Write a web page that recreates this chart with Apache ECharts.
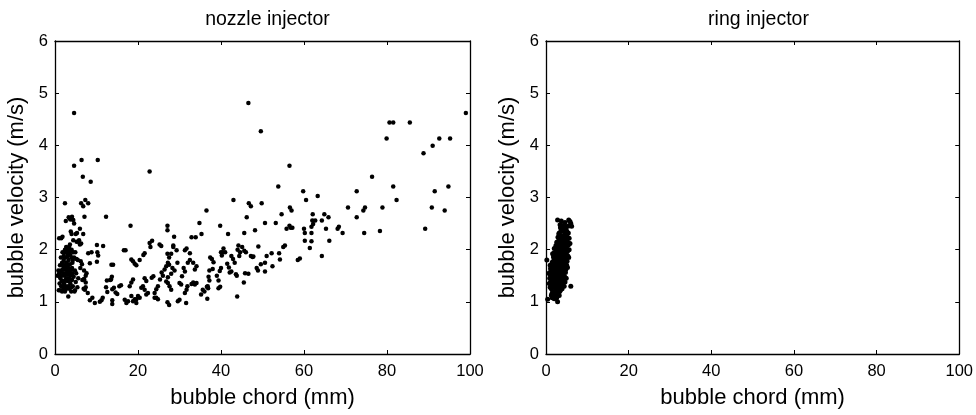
<!DOCTYPE html>
<html>
<head>
<meta charset="utf-8">
<script src="https://cdn.jsdelivr.net/npm/echarts@6/dist/echarts.min.js"></script>
<style>html,body{margin:0;padding:0;background:#fff}#c{width:976px;height:415px}</style>
</head>
<body>
<div id="c"></div>
<script>
const panelTitles = ['nozzle injector', 'ring injector'];
const xTitle = 'bubble chord (mm)';
const yTitle = 'bubble velocity (m/s)';
const xRange = [0, 100, 20];
const yRange = [0, 6, 1];

const nozzlePoints = [
[4.6,4.62],[46.6,4.81],[49.6,4.27],[99.0,4.62],[80.6,4.44],[81.5,4.44],[85.5,4.44],[79.9,4.13],[92.6,4.13],[95.2,4.13],
[91.0,3.99],[88.8,3.85],[4.6,3.61],[6.4,3.72],[10.3,3.72],[6.7,3.40],[8.6,3.30],[22.8,3.50],[56.5,3.61],[76.4,3.40],
[53.8,3.21],[81.5,3.21],[94.8,3.21],[72.7,3.12],[91.5,3.12],[59.8,3.12],[63.3,3.03],[60.5,2.95],[82.3,2.95],[43.0,2.95],
[2.4,2.89],[6.3,2.89],[7.3,2.95],[8.0,2.89],[6.8,2.83],[46.7,2.89],[47.2,2.83],[49.8,2.89],[56.6,2.81],[57.0,2.75],
[70.6,2.81],[74.7,2.81],[78.9,2.81],[90.8,2.81],[93.9,2.75],[74.3,2.75],[36.5,2.75],[7.1,2.63],[12.3,2.63],
[3.3,2.62],[3.7,2.58],[4.1,2.63],[4.4,2.57],[54.6,2.68],[62.1,2.68],[64.9,2.68],[65.9,2.62],[72.7,2.62],[46.2,2.62],
[34.8,2.51],[50.6,2.51],[53.2,2.51],[27.1,2.46],[39.8,2.46],[18.2,2.46],[56.5,2.46],[56.8,2.42],[57.2,2.42],
[60.0,2.40],[65.3,2.40],[68.1,2.40],[68.4,2.44],[89.2,2.40],[55.8,2.40],[78.3,2.36],[74.5,2.32],[69.3,2.32],[60.2,2.32],
[27.1,2.37],[48.2,2.37],[35.3,2.30],[41.7,2.30],[61.8,2.32],[32.9,2.24],[33.9,2.24],[28.7,2.25],[45.6,2.32],
[62.7,2.56],[62.0,2.56],[64.3,2.56],[61.8,2.44],[62.2,2.49],[66.1,2.17],[60.2,2.17],[61.8,2.16],[61.4,2.03],
[64.3,1.88],[59.0,1.83],[58.5,1.80],[55.0,2.05],[55.4,2.08],[54.0,1.93],[54.2,1.81],[52.2,1.93],[51.0,1.88],
[52.4,1.68],[50.6,1.75],[50.6,1.58],[49.6,1.72],[48.6,1.65],[48.9,1.60],[49.0,2.06],[47.8,1.87],[47.2,1.88],[47.6,1.86],
[46.0,1.95],[45.6,1.98],[45.1,2.05],[45.8,1.55],[45.5,1.37],[46.6,1.54],[44.6,1.95],[44.4,1.88],[44.0,2.00],[44.2,2.08],
[43.3,1.75],[42.9,1.82],[42.5,1.88],[43.8,1.50],[43.6,1.53],[42.5,1.58],[42.1,1.56],[43.9,1.10],[41.0,1.95],[40.6,2.02],
[40.2,1.89],[41.5,1.73],[41.9,1.66],[40.0,1.65],[39.7,1.59],[40.0,1.95],[40.4,1.95],[38.2,1.76],[37.8,1.82],[37.4,1.85],
[38.0,1.63],[37.2,1.60],[37.0,1.48],[37.2,1.41],[36.8,1.30],[39.0,1.50],[39.4,1.41],[39.8,1.29],[39.4,1.26],[36.6,1.29],
[36.0,1.20],[36.9,1.26],[35.2,1.14],[35.6,1.23],[36.7,1.06],[34.1,1.36],[33.7,1.33],[33.3,1.37],[32.9,1.34],
[34.1,1.68],[33.7,1.62],[33.3,1.75],[32.5,1.80],[32.0,1.75],[32.5,1.93],[31.3,1.99],[31.7,2.02],[31.0,1.65],[31.3,1.58],
[30.6,1.49],[31.7,1.23],[31.3,1.17],[31.9,1.30],[31.6,0.98],[30.4,1.33],[30.0,1.36],[30.0,1.04],[29.6,1.01],[29.5,1.75],
[28.3,1.65],[27.5,1.71],[28.8,1.60],[28.0,1.54],[27.2,1.47],[28.5,2.05],[28.5,2.08],[29.3,1.99],[28.0,1.92],[27.1,1.92],
[27.5,1.85],[27.5,0.94],[27.1,0.99],[28.0,1.23],[27.6,1.30],[27.2,1.36],[26.8,1.39],[26.8,1.68],[26.4,1.62],[27.2,1.75],
[26.0,1.50],[25.7,1.56],[25.3,1.43],[25.6,2.07],[25.2,2.10],[24.8,1.30],[24.4,1.24],[24.0,1.17],[24.8,1.05],[24.4,1.08],
[24.0,1.08],[23.7,1.49],[23.3,1.46],[23.0,2.05],[23.4,2.17],[22.8,2.13],[22.4,1.17],[22.0,1.14],[21.6,1.23],[21.2,1.30],
[20.8,1.27],[21.6,1.45],[22.0,1.40],[20.4,1.08],[20.0,1.11],[19.6,1.05],[21.3,1.90],[21.6,1.93],[20.4,1.80],[19.6,1.70],
[19.2,1.73],[18.8,1.43],[18.4,1.37],[18.0,1.30],[19.2,1.05],[19.6,0.98],[18.8,1.01],[18.4,1.11],[17.6,1.01],[17.2,0.98],
[16.8,1.04],[18.8,1.78],[18.4,1.81],[17.0,1.99],[16.6,1.99],[15.9,1.32],[15.5,1.30],[15.0,1.15],[14.6,1.18],[14.2,1.27],
[13.8,1.24],[14.0,1.71],[13.6,1.71],[13.5,1.43],[13.3,1.42],[13.7,1.48],[13.8,1.03],[13.8,0.96],[12.5,1.41],[12.3,1.28],
[12.6,1.19],[11.5,1.08],[11.2,1.03],[10.8,1.00],[11.6,2.07],[10.1,2.09],[10.2,1.95],[10.4,1.89],[10.1,1.77],[9.6,0.98],
[9.0,1.08],[8.4,1.03],[8.8,1.95],[8.4,1.74],[7.6,1.55],[7.4,1.50],[7.0,1.44],[7.4,1.37],[7.4,1.28],[7.2,1.23],[7.9,1.17],
[7.0,1.43],[6.5,1.72],[6.8,2.30],[6.3,2.12],[7.0,1.60],[6.6,1.42],[6.9,1.25],[8.0,1.93],[6.0,2.40],[5.6,2.15],[5.8,2.18],
[6.0,2.10],[6.2,1.78],[6.1,1.65],[5.5,1.80],[5.2,2.15],[5.0,2.30],[4.4,2.18],[4.0,2.30],[3.5,2.60],[2.6,2.55],[1.0,2.22],
[1.5,2.22],[1.8,2.25],[0.6,1.50],[0.8,1.60],[0.9,1.22],[1.0,1.55],[1.1,1.35],[1.2,1.70],[1.2,1.22],[1.3,1.45],[1.4,1.60],
[1.4,1.85],[1.5,1.30],[1.6,1.50],[1.7,1.75],[1.7,1.20],[1.8,1.40],[1.8,1.95],[1.9,1.62],[2.0,1.25],[2.0,1.55],[2.1,1.80],
[2.2,1.35],[2.2,1.70],[2.3,1.95],[2.3,1.50],[2.4,1.20],[2.4,2.00],[2.5,1.65],[2.5,1.42],[2.6,1.85],[2.6,1.30],[2.7,1.55],
[2.7,2.05],[2.8,1.75],[2.8,1.25],[2.9,1.60],[2.9,1.95],[3.0,1.40],[3.0,1.70],[3.1,1.88],[3.1,1.52],[3.2,1.30],[3.2,2.00],
[3.3,1.65],[3.3,1.80],[3.4,1.45],[3.4,1.95],[3.5,1.58],[3.5,1.25],[3.6,1.72],[3.6,2.10],[3.7,1.35],[3.7,1.90],[3.8,1.50],
[3.8,2.35],[3.9,1.62],[3.9,1.28],[4.0,1.85],[4.0,2.00],[4.1,1.42],[4.2,1.55],[4.2,1.75],[4.3,1.30],[4.4,1.95],[4.5,1.48],
[4.6,2.50],[4.7,1.20],[4.8,1.60],[5.0,1.38],[5.2,1.82],[5.4,1.28],[5.6,1.45],[3.2,1.10],[4.8,1.22],[2.1,1.88],[2.5,1.95],
[2.9,2.02],[3.0,1.92],[3.4,2.05],[1.6,1.40],[1.9,1.30],[2.3,1.62],[2.7,1.75],[3.6,1.55],[4.1,1.65],[1.3,1.58],[2.0,1.68],
[3.3,1.40],[4.3,1.80],[3.8,1.98],[2.2,1.22],[1.2,1.48],[2.8,1.45],[3.9,1.20],[4.6,1.85],[5.1,1.55],[5.3,2.32],[4.9,1.95]
];

const ringPoints = [
[0.2,1.80],[0.4,1.05],[2.8,1.00],[6.0,1.30],[2.8,2.57],[5.5,2.57],[5.8,2.54],[6.0,2.50],[6.2,2.45],[4.2,2.45],[4.4,2.48],
[1.5,1.08],[1.8,1.12],[2.0,1.06],[2.3,1.15],[2.6,1.10],[3.0,1.18],[3.2,1.12],[1.6,1.20],[2.1,1.20],[2.9,1.25],[3.5,1.22],
[1.0,1.28],[1.3,1.25],[1.8,1.30],[2.2,1.28],[2.6,1.32],[3.1,1.30],[3.6,1.28],[4.0,1.33],[4.4,1.30],[1.1,1.38],[1.5,1.35],
[2.0,1.38],[2.4,1.40],[2.8,1.37],[3.3,1.40],[3.8,1.38],[4.2,1.42],[0.9,1.45],[1.3,1.44],[1.7,1.46],[2.1,1.48],[2.5,1.45],
[3.0,1.47],[3.4,1.50],[3.9,1.46],[4.5,1.48],[1.0,1.52],[1.4,1.55],[1.9,1.53],[2.3,1.56],[2.7,1.52],[3.2,1.55],[3.6,1.58],
[4.1,1.54],[4.7,1.56],[1.2,1.60],[1.6,1.62],[2.0,1.64],[2.5,1.61],[2.9,1.63],[3.4,1.66],[3.8,1.62],[4.3,1.65],[4.8,1.62],
[1.3,1.68],[1.8,1.70],[2.2,1.72],[2.6,1.69],[3.1,1.71],[3.5,1.74],[4.0,1.70],[4.5,1.73],[5.0,1.70],[1.5,1.76],[1.9,1.79],
[2.4,1.77],[2.8,1.80],[3.3,1.78],[3.7,1.82],[4.2,1.79],[4.7,1.81],[5.1,1.78],[1.8,1.86],[2.2,1.88],[2.6,1.85],[3.0,1.88],
[3.5,1.90],[3.9,1.86],[4.4,1.89],[4.9,1.92],[5.3,1.88],[2.0,1.94],[2.5,1.96],[2.9,1.98],[3.3,1.95],[3.8,1.99],[4.2,1.96],
[4.7,2.00],[5.2,1.97],[2.3,2.03],[2.7,2.05],[3.2,2.08],[3.6,2.04],[4.0,2.07],[4.5,2.10],[5.0,2.06],[5.4,2.09],[2.6,2.14],
[3.0,2.16],[3.4,2.12],[3.9,2.18],[4.3,2.15],[4.8,2.19],[5.3,2.14],[2.9,2.24],[3.3,2.22],[3.7,2.26],[4.1,2.23],[4.6,2.28],
[5.1,2.25],[5.6,2.22],[3.2,2.32],[3.6,2.35],[4.0,2.38],[4.5,2.33],[5.0,2.36],[3.5,2.42],[3.9,2.40],[2.9,1.42],[2.4,1.25],
[1.9,1.18],[3.6,1.35],[4.6,1.38],[1.2,1.33],[2.7,1.58],[3.7,1.44],[4.4,1.60],[1.7,1.56],[2.3,1.66],[3.3,1.60],[4.1,1.76],
[2.1,1.82],[3.6,1.84],[4.6,1.95],[2.8,1.92],[3.4,2.00],[4.3,2.02],[2.6,1.08],[1.4,1.15],[2.0,1.32],[3.9,1.25],[4.9,1.45],
[1.1,1.64],[5.2,1.66],[5.5,1.85],[5.6,2.00],[5.8,2.12],[1.6,1.92],[2.0,2.02],[2.4,2.08],[3.1,2.30],[3.4,2.48],[4.8,2.42],
[5.4,2.32],[0.8,1.35],[0.7,1.55],[1.0,1.70],[2.5,1.35],[3.5,1.33],[4.1,1.48],[2.2,1.43],[1.5,1.48],[3.2,1.82],[2.7,1.76],
[4.0,1.92],[3.7,2.12],[4.4,2.20],[2.1,1.58],[2.6,1.50],[3.0,1.58],[3.6,1.68],[4.6,1.68],[3.8,1.52],[2.4,1.84],[1.7,1.40],
[2.9,1.15],[3.3,1.20],[1.3,1.12],[4.5,1.85],[5.3,2.45],[4.6,2.52],[3.7,2.55]
];

const chart = echarts.init(document.getElementById('c'), null, {renderer: 'canvas'});
const FONT = 'Liberation Sans';
const grids = [
  {left: 55, top: 41, width: 415, height: 313},
  {left: 546, top: 41, width: 415, height: 313}
];
const lineStyle = {color: '#000', width: 1.3};
const xAxes = [], yAxes = [];
grids.forEach((g, i) => {
  xAxes.push({
    gridIndex: i, type: 'value', position: 'bottom', min: xRange[0], max: xRange[1], interval: xRange[2],
    name: xTitle, nameLocation: 'middle', nameGap: 33,
    nameTextStyle: {fontFamily: FONT, fontSize: 22, color: '#000'},
    axisLine: {show: true, onZero: false, lineStyle},
    axisTick: {show: true, inside: true, length: 4, lineStyle: {color: '#000', width: 1}},
    axisLabel: {fontFamily: FONT, fontSize: 16.5, color: '#000', margin: 9},
    splitLine: {show: false}
  });
  xAxes.push({
    gridIndex: i, type: 'value', position: 'top', min: xRange[0], max: xRange[1], interval: xRange[2],
    axisLine: {show: true, onZero: false, lineStyle},
    axisTick: {show: true, inside: true, length: 4, lineStyle: {color: '#000', width: 1}},
    axisLabel: {show: false}, splitLine: {show: false}
  });
  yAxes.push({
    gridIndex: i, type: 'value', position: 'left', min: yRange[0], max: yRange[1], interval: yRange[2],
    name: yTitle, nameLocation: 'middle', nameGap: 27, nameRotate: 90,
    nameTextStyle: {fontFamily: FONT, fontSize: 22, color: '#000'},
    axisLine: {show: true, onZero: false, lineStyle},
    axisTick: {show: true, inside: true, length: 4, lineStyle: {color: '#000', width: 1}},
    axisLabel: {fontFamily: FONT, fontSize: 16.5, color: '#000', margin: 7},
    splitLine: {show: false}
  });
  yAxes.push({
    gridIndex: i, type: 'value', position: 'right', min: yRange[0], max: yRange[1], interval: yRange[2],
    axisLine: {show: true, onZero: false, lineStyle},
    axisTick: {show: true, inside: true, length: 4, lineStyle: {color: '#000', width: 1}},
    axisLabel: {show: false}, splitLine: {show: false}
  });
});

chart.setOption({
  animation: false,
  backgroundColor: '#fff',
  title: panelTitles.map((t, i) => ({
    text: t, left: grids[i].left + grids[i].width / 2, top: 5, textAlign: 'center',
    textStyle: {fontFamily: FONT, fontSize: 19.5, fontWeight: 'normal', color: '#000'}
  })),
  grid: grids,
  xAxis: xAxes,
  yAxis: yAxes,
  series: [
    {type: 'scatter', xAxisIndex: 0, yAxisIndex: 0, data: nozzlePoints, symbolSize: 4.5, itemStyle: {color: '#000', opacity: 1}},
    {type: 'scatter', xAxisIndex: 2, yAxisIndex: 2, data: ringPoints, symbolSize: 5, itemStyle: {color: '#000', opacity: 1}}
  ]
});
</script>
</body>
</html>
